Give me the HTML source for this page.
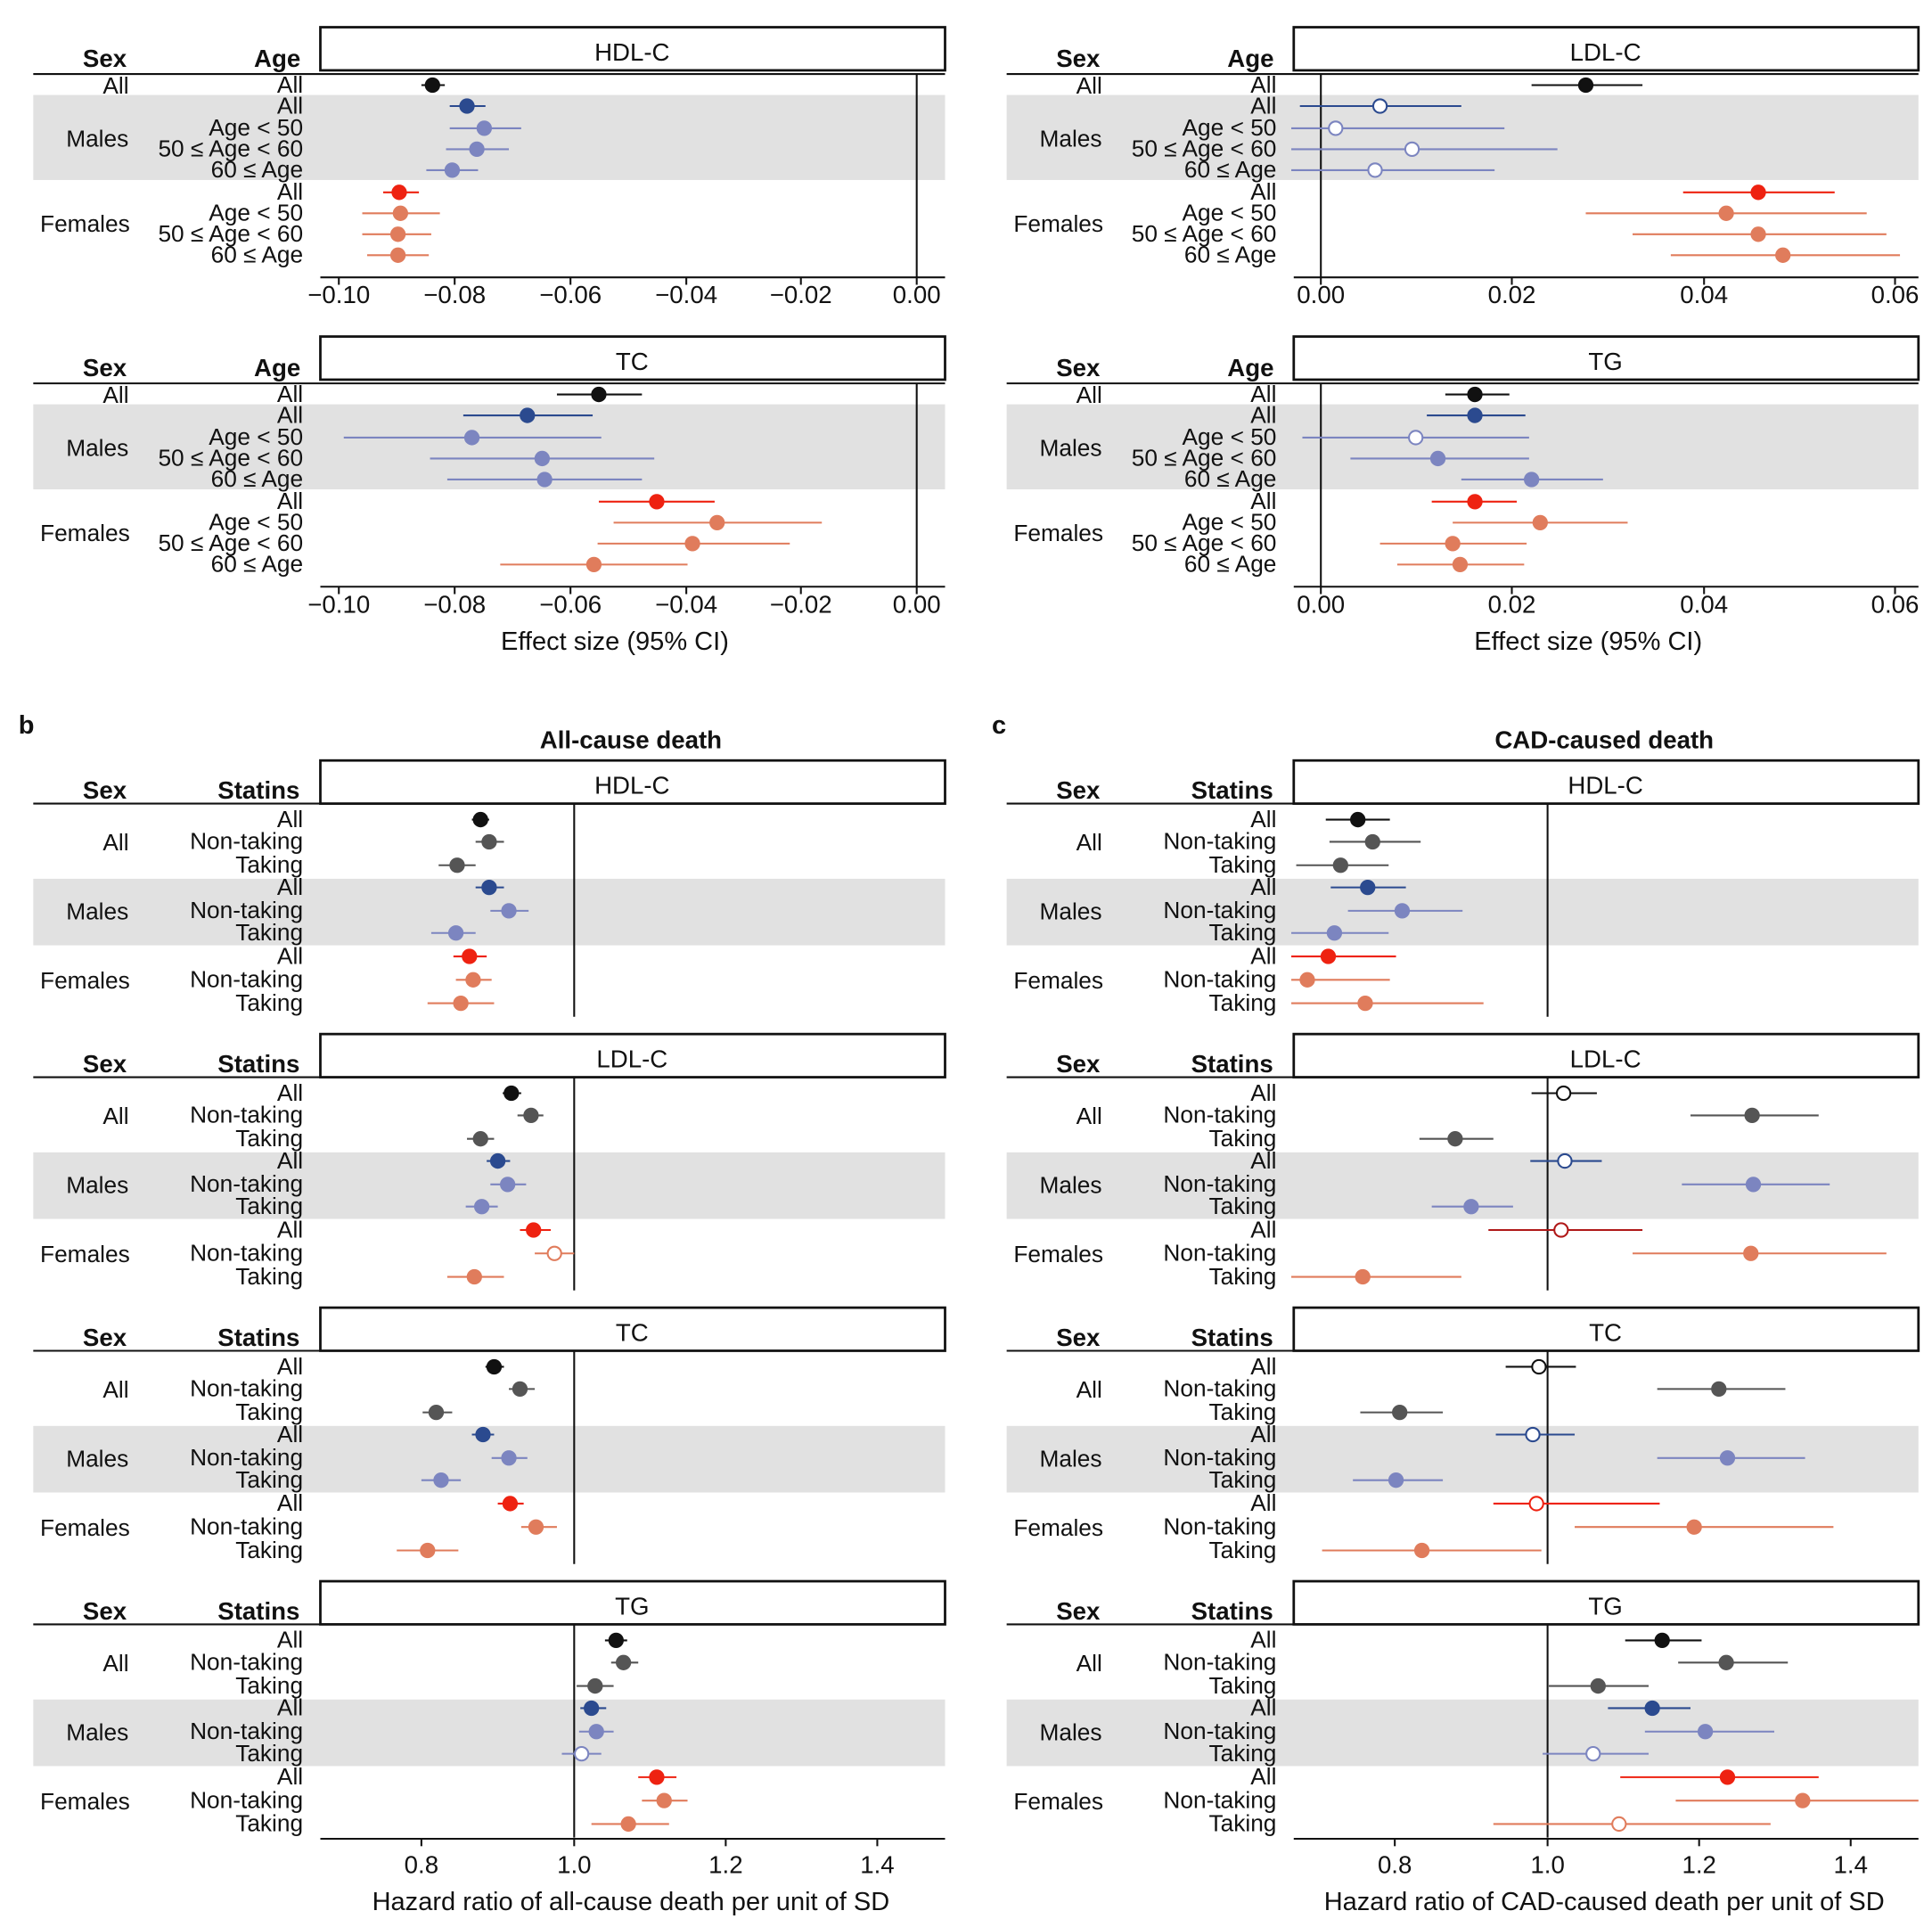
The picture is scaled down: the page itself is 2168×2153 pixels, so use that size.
<!DOCTYPE html>
<html><head><meta charset="utf-8"><style>
html,body{margin:0;padding:0;background:#fff}
svg{display:block}
text{font-family:"Liberation Sans",Arial,sans-serif;fill:#111}
</style></head><body>
<svg id="s" width="2168" height="2153" viewBox="0 0 1568 1557" xmlns="http://www.w3.org/2000/svg"></svg>
<script>
var o='';
function T(x,y,t,sz,anc,bold){o+='<text x="'+x+'" y="'+y+'" font-size="'+(sz||19)+'" text-anchor="'+(anc||'start')+'"'+(bold?' font-weight="bold"':'')+'>'+t+'</text>';}
function L(x1,y1,x2,y2,c,w){o+='<line x1="'+x1+'" y1="'+y1+'" x2="'+x2+'" y2="'+y2+'" stroke="'+(c||'#111')+'" stroke-width="'+(w||1.5)+'"/>';}
function R(x,y,w,h,f,s){o+='<rect x="'+x+'" y="'+y+'" width="'+w+'" height="'+h+'" fill="'+f+'"'+(s?' stroke="#111" stroke-width="2"':'')+'/>';}
function P(x,y,a,b,c,open){L(a,y,b,y,c,1.5);o+='<circle cx="'+x+'" cy="'+y+'" r="5.5" fill="'+(open?'#fff':c)+'" stroke="'+c+'" stroke-width="1.5"/>';}
var K='#111',DB='#2b4a8f',LB='#7c85c0',RD='#ee2211',OR='#e07c5c',DG='#555',DR='#b01818';
var aCols=[K,DB,LB,LB,LB,RD,OR,OR,OR];
var ageL=['All','All','Age &lt; 50','50 ≤ Age &lt; 60','60 ≤ Age','All','Age &lt; 50','50 ≤ Age &lt; 60','60 ≤ Age'];
function panelA(dx,dy,title,vx,data,open){
 T(85+dx,54+dy,'Sex',20,'middle',1);T(225+dx,54+dy,'Age',20,'middle',1);
 R(260+dx,22+dy,507,35,'#fff',1);T(513+dx,49+dy,title,20,'middle');
 R(27+dx,77+dy,740,69,'#e1e1e1');
 L(27+dx,60+dy,767+dx,60+dy,K,1.5);
 var ys=[69,86,104,121,138,156,173,190,207];
 T(94+dx,76+dy,'All',19,'middle');T(79+dx,119+dy,'Males',19,'middle');T(69+dx,188+dy,'Females',19,'middle');
 for(var i=0;i<9;i++)T(246+dx,ys[i]+6+dy,ageL[i],19,'end');
 L(vx,60+dy,vx,225+dy,K,1.5);
 for(var i=0;i<9;i++){var d=data[i];P(d[0],ys[i]+dy,d[1],d[2],aCols[i],open&&open[i]);}
}
panelA(0,0,'HDL-C',744,[[351,342,361],[379,365,394],[393,365,423],[387,362,413],[367,346,388],[324,311,340],[325,294,357],[323,294,350],[323,298,348]]);
panelA(790,0,'LDL-C',1072,[[1287,1243,1333],[1120,1055,1186],[1084,1048,1221],[1146,1048,1264],[1116,1048,1213],[1427,1366,1489],[1401,1287,1515],[1427,1325,1531],[1447,1356,1542]],[0,1,1,1,1]);
panelA(0,251,'TC',744,[[486,452,521],[428,376,481],[383,279,488],[440,349,531],[442,363,521],[533,486,580],[582,498,667],[562,485,641],[482,406,558]]);
panelA(790,251,'TG',1072,[[1197,1173,1225],[1197,1158,1238],[1149,1057,1241],[1167,1096,1241],[1243,1186,1301],[1197,1162,1231],[1250,1179,1321],[1179,1120,1239],[1185,1134,1237]],[0,0,1]);
function axis(y,x1,x2,ticks,ly){L(x1,y,x2,y,K,1.5);ticks.forEach(function(t){L(t[0],y,t[0],y+6,K,1.5);T(t[0],ly,t[1],20,'middle');});}
var tl=[[275,'−0.10'],[369,'−0.08'],[463,'−0.06'],[557,'−0.04'],[650,'−0.02'],[744,'0.00']];
var tr=[[1072,'0.00'],[1227,'0.02'],[1383,'0.04'],[1538,'0.06']];
axis(225,260,767,tl,246);axis(225,1050,1557,tr,246);
axis(476,260,767,tl,497);axis(476,1050,1557,tr,497);
T(499,527,'Effect size (95% CI)',21,'middle');T(1289,527,'Effect size (95% CI)',21,'middle');
T(15,595,'b',21,'start',1);T(805,595,'c',21,'start',1);
T(512,607,'All-cause death',20,'middle',1);T(1302,607,'CAD-caused death',20,'middle',1);
var stL=['All','Non-taking','Taking','All','Non-taking','Taking','All','Non-taking','Taking'];
var bCols=[K,DG,DG,DB,LB,LB,RD,OR,OR];
function panelB(dx,dy,title,data,open,cols){
 T(85+dx,648+dy,'Sex',20,'middle',1);T(210+dx,648+dy,'Statins',20,'middle',1);
 R(260+dx,617+dy,507,35,'#fff',1);T(513+dx,644+dy,title,20,'middle');
 R(27+dx,713+dy,740,54,'#e1e1e1');
 L(27+dx,652+dy,767+dx,652+dy,K,1.5);
 var ys=[665,683,702,720,739,757,776,795,814];
 T(94+dx,690+dy,'All',19,'middle');T(79+dx,746+dy,'Males',19,'middle');T(69+dx,802+dy,'Females',19,'middle');
 for(var i=0;i<9;i++)T(246+dx,ys[i]+6+dy,stL[i],19,'end');
 L(466+dx,652+dy,466+dx,825+dy,K,1.5);
 for(var i=0;i<9;i++){var d=data[i];P(d[0],ys[i]+dy,d[1],d[2],(cols&&cols[i])||bCols[i],open&&open[i]);}
}
panelB(0,0,'HDL-C',[[390,383,397],[397,386,409],[371,356,386],[397,386,409],[413,398,429],[370,350,386],[381,368,395],[384,370,399],[374,347,401]]);
panelB(0,222,'LDL-C',[[415,408,423],[431,420,441],[390,379,401],[404,395,414],[412,398,427],[391,378,404],[433,422,447],[450,434,466],[385,363,409]],[0,0,0,0,0,0,0,1]);
panelB(0,444,'TC',[[401,394,409],[422,413,434],[354,343,367],[392,383,401],[413,399,428],[358,342,374],[414,404,425],[435,423,452],[347,322,372]]);
panelB(0,666,'TG',[[500,491,509],[506,496,518],[483,468,498],[480,471,492],[484,470,498],[472,456,488],[533,518,549],[539,521,558],[510,480,543]],[0,0,0,0,0,1]);
panelB(790,0,'HDL-C',[[1102,1076,1128],[1114,1079,1153],[1088,1052,1127],[1110,1080,1141],[1138,1094,1187],[1083,1048,1127],[1078,1048,1133],[1061,1048,1128],[1108,1048,1204]]);
panelB(790,222,'LDL-C',[[1269,1243,1296],[1422,1372,1476],[1181,1152,1212],[1270,1242,1300],[1423,1365,1485],[1194,1162,1228],[1267,1208,1333],[1421,1325,1531],[1106,1048,1186]],[1,0,0,1,0,0,1],[0,0,0,0,0,0,DR]);
panelB(790,444,'TC',[[1249,1222,1279],[1395,1345,1449],[1136,1104,1171],[1244,1214,1278],[1402,1345,1465],[1133,1098,1171],[1247,1212,1347],[1375,1278,1488],[1154,1073,1251]],[1,0,0,1,0,0,1]);
panelB(790,666,'TG',[[1349,1319,1381],[1401,1362,1451],[1297,1257,1338],[1341,1305,1372],[1384,1335,1440],[1293,1252,1338],[1402,1315,1476],[1463,1360,1557],[1314,1212,1437]],[0,0,0,0,0,1,0,0,1]);
axis(1492,260,767,[[342,'0.8'],[466,'1.0'],[589,'1.2'],[712,'1.4']],1520);
axis(1492,1050,1557,[[1132,'0.8'],[1256,'1.0'],[1379,'1.2'],[1502,'1.4']],1520);
T(512,1550,'Hazard ratio of all-cause death per unit of SD',21,'middle');
T(1302,1550,'Hazard ratio of CAD-caused death per unit of SD',21,'middle');
document.getElementById('s').innerHTML=o;
</script>
</body></html>
